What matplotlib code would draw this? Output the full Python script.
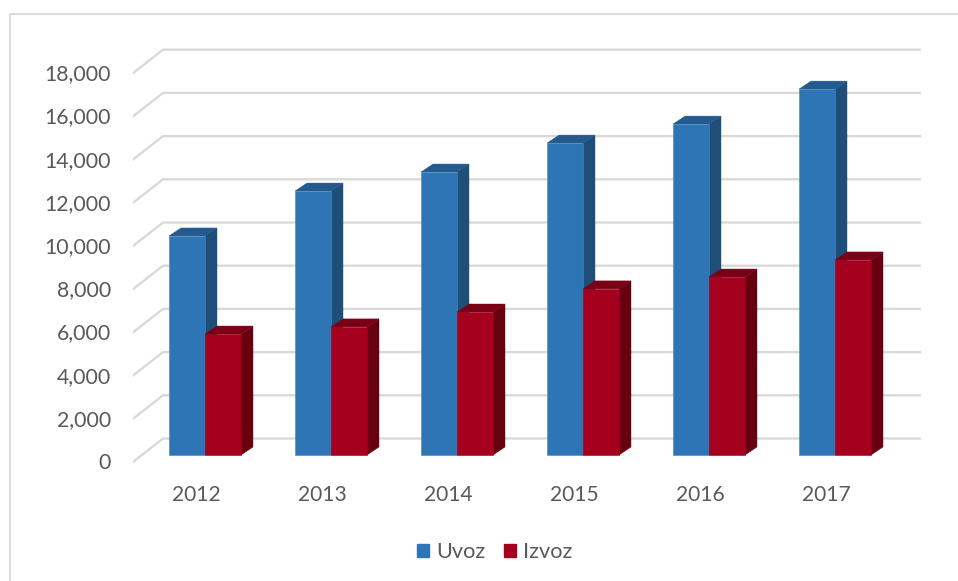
import matplotlib
matplotlib.use("Agg")
import matplotlib.pyplot as plt
from matplotlib.patches import Patch, Polygon, Rectangle

years = ["2012", "2013", "2014", "2015", "2016", "2017"]
uvoz = [10140, 12220, 13100, 14440, 15320, 16940]
izvoz = [5600, 5930, 6620, 7690, 8240, 9030]
ticks = [0, 2000, 4000, 6000, 8000, 10000, 12000, 14000, 16000, 18000]

W, H = 958, 581
PX_X = 126.0          # pixels per category
PX_Y = 21.6 / 1000    # pixels per unit of value
GRAY = "#595959"
GRID = "#D9D9D9"

plt.rcParams["font.family"] = ["Lato", "DejaVu Sans"]

fig = plt.figure(figsize=(W / 100, H / 100), dpi=100, facecolor="white")

# outer chart frame
fig.add_artist(Rectangle((10 / W, -0.01), 1, 1 - 14 / H + 0.01, transform=fig.transFigure,
                         fill=False, ec=GRID, lw=1.3))

# axes run from px 133 to 921 across, from px 470 up to px 40
ax = fig.add_axes([133 / W, 1 - 470 / H, (921 - 133) / W, (470 - 40) / H])
ax.patch.set_visible(False)
x0 = (133 - 205) / PX_X
x1 = (921 - 205) / PX_X
ax.set_xlim(x0, x1)
ax.set_ylim(-15 / PX_Y, 415 / PX_Y)
for s in ax.spines.values():
    s.set_visible(False)

# depth offsets of the fake 3D look, in data units
left_dy = -7 / PX_Y
back_dy = 16.5 / PX_Y
back_dx = (163 - 133) / PX_X
bar_w = 36 / PX_X
dep_x = 12 / PX_X
dep_y = 8 / PX_Y

# gridlines: wall part and side part
for v in ticks:
    ax.plot([x0, x0 + back_dx, x1], [v + left_dy, v + back_dy, v + back_dy],
            color=GRID, lw=1.7, zorder=1, solid_joinstyle="miter")


def draw_bars(xs, vals, front, side, top, edge, z):
    ax.bar(xs, vals, width=bar_w, color=front, edgecolor=edge, linewidth=0.4, zorder=z + 1)
    for x, v in zip(xs, vals):
        l, r = x - bar_w / 2, x + bar_w / 2
        ax.add_patch(Polygon([(r, 0), (r + dep_x, dep_y), (r + dep_x, v + dep_y), (r, v)],
                             closed=True, fc=side, ec=side, lw=0.3, zorder=z))
        ax.add_patch(Polygon([(l, v), (l + dep_x, v + dep_y), (r + dep_x, v + dep_y), (r, v)],
                             closed=True, fc=top, ec=top, lw=0.3, zorder=z))


pos = list(range(len(years)))
draw_bars([p - bar_w / 2 for p in pos], uvoz, "#2E75B6", "#1F4E79", "#255A8E", "#4A86C2", 2)
draw_bars([p + bar_w / 2 for p in pos], izvoz, "#A5001E", "#67000F", "#7A0015", "#A5001E", 4)

# year labels sit a little left of the bar pairs, value labels line up with the grid ends
ax.set_xticks([p - 9 / PX_X for p in pos], years)
ax.set_yticks([v + left_dy + 1 / PX_Y for v in ticks], [f"{v:,}" for v in ticks])
ax.tick_params(axis="x", length=0, pad=11, labelsize=15.1, labelcolor=GRAY)
ax.tick_params(axis="y", length=0, pad=16, labelsize=15.3, labelcolor=GRAY)

fig.legend(handles=[Patch(color="#2E75B6", label="Uvoz"), Patch(color="#A5001E", label="Izvoz")],
           loc="center", bbox_to_anchor=(495 / W, 1 - 552 / H), ncol=2, frameon=False,
           fontsize=15.7, labelcolor=GRAY, handlelength=0.55, handleheight=0.55,
           handletextpad=0.32, columnspacing=0.87)

fig.savefig("out.png", dpi=100)
